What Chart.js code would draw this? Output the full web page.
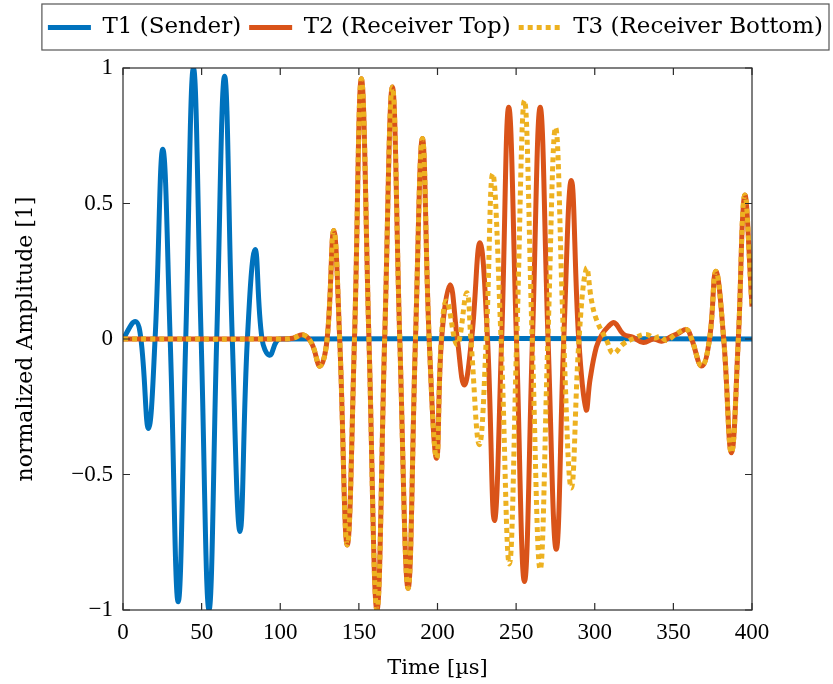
<!DOCTYPE html>
<html>
<head>
<meta charset="utf-8">
<script src="https://cdn.jsdelivr.net/npm/chart.js@4.4.1/dist/chart.umd.min.js"></script>
<style>
  html, body { margin: 0; padding: 0; background: #fff; }
  #wrap { width: 833px; height: 684px; }
</style>
</head>
<body>
<div id="wrap"><canvas id="signals" width="833" height="684"></canvas></div>
<script>
// values (time in µs, normalized amplitude)
const t1Time = [0, 7.8, 11.4, 16.2, 20.4, 25.3, 30, 35.1, 39.9, 44.8, 49.7, 54.7, 59.6,
  64.6, 69.5, 74.4, 79.1, 84, 88.4, 93.2, 97.5, 100, 400];
const t1Amp = [0, 0.065, 0, -0.33, 0, 0.70, 0, -0.97, 0, 1.0, 0, -1.0, 0,
  0.97, 0, -0.71, 0, 0.33, 0, -0.06, -0.01, 0, 0];

const t2Time = [0, 100, 108, 114.7, 120, 125.3, 129.8, 134, 137.8, 142.6, 147.2, 151.6, 156.4,
  161.5, 166.4, 171.3, 176, 181.3, 186, 190.4, 194.7, 199.4, 202.6, 208, 212.6, 217, 221.7,
  227, 231.8, 236.2, 240.8, 245.3, 250.2, 255.3, 260.4, 265.3, 270.3, 275.5, 280.3, 285.1,
  289.8, 294.5, 297, 301, 304.4, 308.5, 312.5, 318.2, 324.4, 330.9, 337.3, 342.5, 348.9,
  353, 358.5, 361.6, 368, 373, 377, 382, 386.9, 391.3, 395.3, 400];
const t2Amp = [0, 0, 0.003, 0.015, -0.016, -0.1, 0, 0.4, 0, -0.76, 0, 0.96, 0,
  -1.0, 0, 0.93, 0, -0.92, 0, 0.74, 0, -0.44, 0, 0.2, 0, -0.17, 0,
  0.355, 0, -0.67, 0, 0.855, 0, -0.895, 0, 0.855, 0, -0.776, 0, 0.585,
  0, -0.26, -0.15, -0.03, 0.015, 0.045, 0.06, 0.018, 0.006, -0.013, 0, -0.008, 0.01,
  0.02, 0.035, 0, -0.1, 0, 0.25, 0, -0.42, 0, 0.53, 0.12];

const t3Time = [0, 100, 108, 114.7, 120, 125.3, 129.8, 134, 137.8, 142.6, 147.2, 151.6, 156.4,
  161.5, 166.4, 171.3, 176, 181.3, 186, 190.4, 194.7, 199.4, 202.4, 205.8, 212.5, 218.6,
  221.2, 226.6, 231, 235.1, 240.4, 245.7, 250.4, 255.3, 260.2, 265.3, 270.2, 275.1, 280.2,
  285.1, 290, 294.7, 298, 301.2, 307.6, 311.8, 318.2, 325.6, 332.4, 338.3, 341.5, 345.7,
  352.1, 358.5, 361.6, 368, 373, 377, 382, 386.9, 391.3, 395.3, 400];
const t3Amp = [0, 0, 0.003, 0.015, -0.016, -0.1, 0, 0.4, 0, -0.76, 0, 0.96, 0,
  -1.0, 0, 0.93, 0, -0.92, 0, 0.74, 0, -0.44, 0, 0.14, -0.02, 0.17,
  0, -0.39, 0, 0.61, 0, -0.83, 0, 0.88, 0, -0.85, 0, 0.78, 0,
  -0.55, 0, 0.26, 0.14, 0.07, -0.006, -0.053, -0.018, 0.004, 0.017, 0.004, 0.01, -0.005,
  0.02, 0.035, 0, -0.1, 0, 0.25, 0, -0.42, 0, 0.53, 0.12];

const seriesNames = ['T1 (Sender)', 'T2 (Receiver Top)', 'T3 (Receiver Bottom)'];
const xTicks = [0, 50, 100, 150, 200, 250, 300, 350, 400];
const yTicks = [-1, -0.5, 0, 0.5, 1];

const colors = ['#0072bd', '#d95319', '#edb120'];
const textFont = 'DejaVu Serif';
const tickFont = 'Liberation Serif';

function pairs(xs, ys) {
  return xs.map((x, i) => ({ x: x, y: ys[i] }));
}

function minus(v) {
  return v < 0 ? '\u2212' + Math.abs(v) : String(v);
}

// pgfplots style box: frame, inward ticks on every side, bordered legend
const boxPlugin = {
  id: 'boxPlugin',
  afterDraw(chart) {
    const ctx = chart.ctx;
    const a = chart.chartArea;
    const sx = chart.scales.x;
    const sy = chart.scales.y;
    ctx.save();
    ctx.strokeStyle = '#2b2b2b';
    ctx.lineWidth = 1.2;
    ctx.beginPath();
    xTicks.forEach(v => {
      const px = sx.getPixelForValue(v);
      ctx.moveTo(px, a.bottom); ctx.lineTo(px, a.bottom - 7);
      ctx.moveTo(px, a.top); ctx.lineTo(px, a.top + 7);
    });
    yTicks.forEach(v => {
      const py = sy.getPixelForValue(v);
      ctx.moveTo(a.left, py); ctx.lineTo(a.left + 7, py);
      ctx.moveTo(a.right, py); ctx.lineTo(a.right - 7, py);
    });
    ctx.stroke();
    ctx.strokeRect(a.left, a.top, a.right - a.left, a.bottom - a.top);

    const lg = chart.legend;
    const hb = lg.legendHitBoxes;
    if (hb && hb.length) {
      const first = hb[0];
      const last = hb[hb.length - 1];
      const x0 = first.left - 6;
      const x1 = last.left + last.width + 6;
      ctx.strokeStyle = '#555';
      ctx.lineWidth = 1.2;
      ctx.strokeRect(x0, lg.top - 4, x1 - x0, lg.bottom - lg.top + 5);
    }
    ctx.restore();
  }
};

const ctx = document.getElementById('signals');
const chart = new Chart(ctx, {
  type: 'line',
  data: {
    datasets: [
      {
        label: seriesNames[0],
        data: pairs(t1Time, t1Amp),
        borderColor: colors[0],
        backgroundColor: colors[0],
        borderWidth: 5,
        order: 3
      },
      {
        label: seriesNames[1],
        data: pairs(t2Time, t2Amp),
        borderColor: colors[1],
        backgroundColor: colors[1],
        borderWidth: 5,
        order: 2
      },
      {
        label: seriesNames[2],
        data: pairs(t3Time, t3Amp),
        borderColor: colors[2],
        backgroundColor: colors[2],
        borderWidth: 5,
        borderDash: [5, 4],
        order: 1
      }
    ]
  },
  options: {
    responsive: false,
    animation: false,
    devicePixelRatio: 1,
    elements: {
      point: { radius: 0, hoverRadius: 0 },
      line: { tension: 0.42, cubicInterpolationMode: 'default', fill: false, borderCapStyle: 'butt' }
    },
    layout: { padding: { left: 0, right: 2, top: 8, bottom: 0 } },
    plugins: {
      tooltip: { enabled: false },
      legend: {
        position: 'top',
        align: 'end',
        labels: {
          color: '#000',
          font: { family: textFont, size: 23 },
          usePointStyle: true,
          pointStyleWidth: 43,
          padding: 8,
          sort: (a, b) => a.datasetIndex - b.datasetIndex,
          generateLabels: chart => chart.data.datasets.map((ds, i) => ({
            text: ds.label,
            fillStyle: ds.borderColor,
            strokeStyle: ds.borderColor,
            lineWidth: 5,
            lineDash: ds.borderDash || [],
            lineCap: 'butt',
            pointStyle: 'line',
            fontColor: '#000',
            hidden: false,
            datasetIndex: i
          }))
        }
      }
    },
    scales: {
      x: {
        type: 'linear',
        position: 'bottom',
        min: 0,
        max: 400,
        afterBuildTicks: s => { s.ticks = xTicks.map(v => ({ value: v })); },
        afterFit: s => { s.height = 74; },
        grid: { display: false, drawTicks: false },
        border: { display: false },
        ticks: { color: '#000', padding: 9, maxRotation: 0, font: { family: tickFont, size: 23 } },
        title: {
          display: true,
          text: 'Time [\u00b5s]',
          color: '#000',
          font: { family: textFont, size: 21 },
          padding: { top: 0, bottom: 3 }
        }
      },
      xTop: {
        type: 'linear',
        position: 'top',
        min: 0,
        max: 400,
        afterFit: s => { s.height = 19; },
        grid: { display: false, drawTicks: false },
        border: { display: false },
        ticks: { display: false }
      },
      y: {
        type: 'linear',
        position: 'left',
        min: -1,
        max: 1,
        afterBuildTicks: s => { s.ticks = yTicks.map(v => ({ value: v })); },
        afterFit: s => { s.width = 123; },
        grid: { display: false, drawTicks: false },
        border: { display: false },
        ticks: { color: '#000', padding: 10, callback: minus, font: { family: tickFont, size: 23 } },
        title: {
          display: true,
          text: 'normalized Amplitude [1]',
          color: '#000',
          font: { family: textFont, size: 22 },
          padding: { top: 13, bottom: 0 }
        }
      },
      yRight: {
        type: 'linear',
        position: 'right',
        min: -1,
        max: 1,
        afterFit: s => { s.width = 79; },
        grid: { display: false, drawTicks: false },
        border: { display: false },
        ticks: { display: false }
      }
    }
  },
  plugins: [boxPlugin]
});
</script>
</body>
</html>
